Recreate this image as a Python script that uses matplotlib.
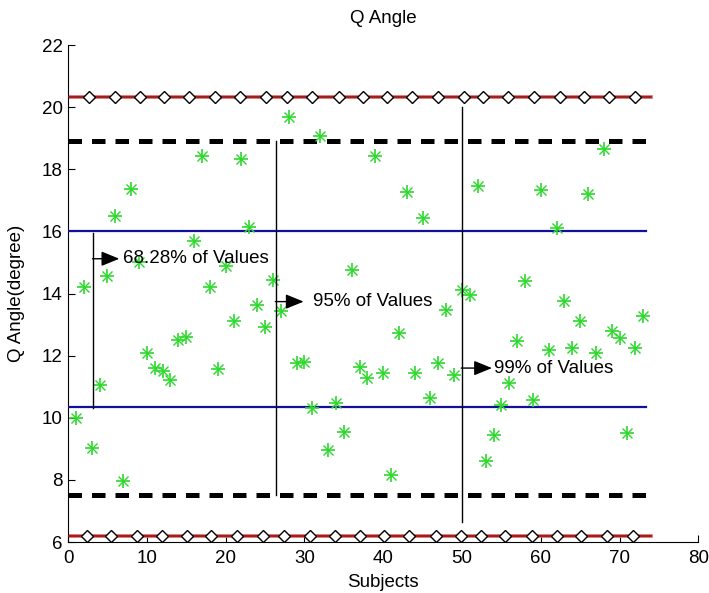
import numpy as np
import matplotlib
matplotlib.use("Agg")
import matplotlib.pyplot as plt

plt.rcParams["font.family"] = ["Liberation Sans", "DejaVu Sans"]

# Q angle per subject
q_angle = [10.0, 14.2, 9.03, 11.05, 14.55, 16.5, 7.95, 17.35, 15.0, 12.1,
           11.6, 11.5, 11.2, 12.5, 12.6, 15.7, 18.44, 14.22, 11.56, 14.9,
           13.1, 18.32, 16.15, 13.63, 12.91, 14.44, 13.45, 19.68, 11.77, 11.8,
           10.3, 19.08, 8.95, 10.48, 9.55, 14.75, 11.62, 11.27, 18.44, 11.43,
           8.16, 12.72, 17.28, 11.45, 16.44, 10.63, 11.75, 13.47, 11.38, 14.12,
           13.95, 17.46, 8.62, 9.44, 10.41, 11.13, 12.47, 14.41, 10.57, 17.33,
           12.18, 16.1, 13.77, 12.26, 13.12, 17.19, 12.07, 18.65, 12.8, 12.56,
           9.5, 12.26, 13.29]
subjects = np.arange(1, len(q_angle) + 1)

# limit lines
red_levels = [20.33, 6.2]
dash_levels = [18.9, 7.5]
blue_levels = [16.02, 10.35]
red_end = 74.0
dash_end = 73.5
blue_end = 73.3

# diamond marker positions on the red lines
diam_hi = [2.6, 5.9, 9.1, 12.2, 15.4, 18.6, 21.8, 25.1, 27.8, 31.0, 34.4, 37.4,
           40.5, 43.6, 46.9, 50.2, 52.7, 55.9, 59.1, 62.4, 65.5, 68.7, 71.9]
diam_lo = [2.4, 5.5, 8.7, 11.9, 15.1, 18.2, 21.5, 24.8, 27.4, 30.7, 33.9, 37.0,
           40.1, 43.3, 46.7, 49.9, 52.4, 55.4, 58.9, 62.0, 65.1, 68.4, 71.7]

# bracket annotations: x of vertical line, its y range, arrow y, arrow tip x, text x, label
brackets = [
    (3.2, 10.31, 15.95, 15.12, 6.5, 6.95, "68.28% of Values"),
    (26.4, 7.5, 18.9, 13.74, 29.9, 31.1, "95% of Values"),
    (50.0, 6.65, 20.0, 11.6, 53.8, 54.1, "99% of Values"),
]

fig = plt.figure(figsize=(7.09, 5.93), dpi=100)
ax = fig.add_axes([0.096, 0.086, 0.889, 0.838])

fs = 13.5

for lev in red_levels:
    ax.plot([0, red_end], [lev, lev], color="#e06060", lw=2.6, zorder=2)
    ax.plot([0, red_end], [lev, lev], color="#8a1515", lw=1.2, zorder=3)
ax.plot(diam_hi, [red_levels[0]] * len(diam_hi), ls="none", marker="D", ms=6.5,
        mfc="white", mec="black", mew=1.0, zorder=4)
ax.plot(diam_lo, [red_levels[1]] * len(diam_lo), ls="none", marker="D", ms=6.5,
        mfc="white", mec="black", mew=1.0, zorder=4)

for lev in dash_levels:
    ax.plot([0, dash_end], [lev, lev], color="black", lw=3.6,
            dashes=(2.7, 2.0), zorder=3)

for lev in blue_levels:
    ax.plot([0, blue_end], [lev, lev], color="#10109a", lw=1.6, zorder=3)

# MATLAB style asterisk: plus with a diagonal cross
ax.plot(subjects, q_angle, ls="none", marker="+", ms=10, mew=1.2,
        color="#2ed82e", zorder=5)
ax.plot(subjects, q_angle, ls="none", marker="x", ms=7, mew=1.0,
        color="#2ed82e", zorder=5)

for xv, y0, y1, ya, xtip, xt, label in brackets:
    ax.plot([xv, xv], [y0, y1], color="black", lw=1.0, zorder=6)
    ax.annotate("", xy=(xtip, ya), xytext=(xv - 0.1, ya),
                arrowprops=dict(arrowstyle="-|>,head_length=1.1,head_width=0.45",
                                color="black", lw=1.0, shrinkA=0, shrinkB=0),
                zorder=7)
    ax.text(xt, ya, label, fontsize=fs, va="center", ha="left", zorder=7)

ax.set_xlim(0, 80)
ax.set_ylim(6, 22)
ax.set_xticks(np.arange(0, 81, 10))
ax.set_yticks(np.arange(6, 23, 2))
ax.spines["top"].set_visible(False)
ax.spines["right"].set_visible(False)
ax.tick_params(direction="in", length=5, labelsize=fs, pad=4)
ax.tick_params(axis="x", pad=6)

ax.set_title("Q Angle", fontsize=fs, pad=16)
ax.set_xlabel("Subjects", fontsize=fs, labelpad=5)
ax.set_ylabel("Q Angle(degree)", fontsize=fs, labelpad=12)

fig.savefig("out.png", dpi=100)
